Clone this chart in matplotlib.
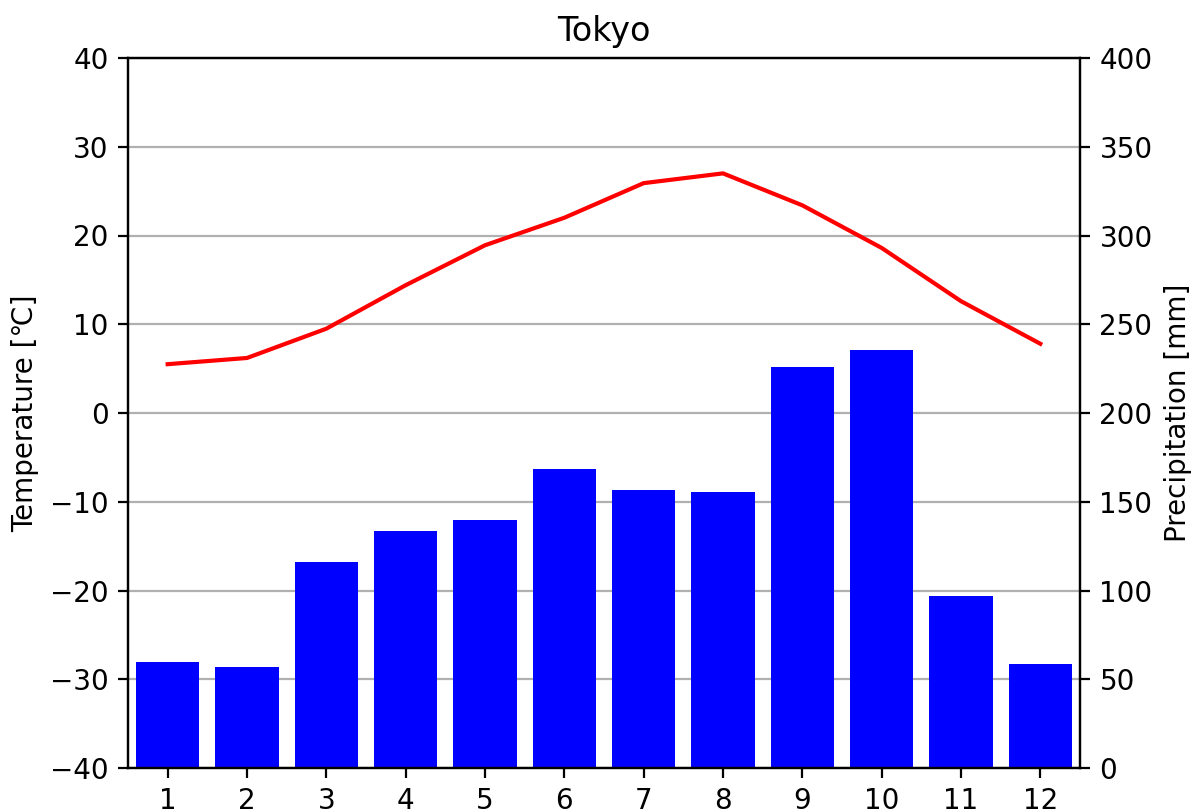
import matplotlib
matplotlib.use("Agg")
import matplotlib.pyplot as plt

months = [1, 2, 3, 4, 5, 6, 7, 8, 9, 10, 11, 12]
temperature = [5.5, 6.2, 9.5, 14.4, 18.9, 22.0, 25.9, 27.0, 23.4, 18.6, 12.6, 7.8]
precipitation = [60.0, 57.0, 116.0, 133.5, 140.0, 168.5, 156.5, 155.5, 226.0, 235.5, 97.0, 58.5]

W, H = 1192, 809
fig = plt.figure(figsize=(W / 200, H / 200), dpi=200)
ax1 = fig.add_axes([128 / W, 1 - 768 / H, (1080 - 128) / W, (768 - 58) / H])
ax2 = ax1.twinx()

ax2.bar(months, precipitation, width=0.8, color="blue", zorder=2)
ax2.set_ylim(0, 400)
ax2.grid(axis="y", zorder=0)
ax2.set_axisbelow(True)
ax2.set_ylabel("Precipitation [mm]")

ax1.plot(months, temperature, color="red", linewidth=1.5)
ax1.set_ylim(-40, 40)
ax1.set_xlim(0.5, 12.5)
ax1.set_xticks(months)
ax1.set_ylabel("Temperature [℃]")
ax1.set_title("Tokyo")

ax1.set_zorder(ax2.get_zorder() + 1)
ax1.patch.set_visible(False)

fig.savefig("out.png", dpi=200)
